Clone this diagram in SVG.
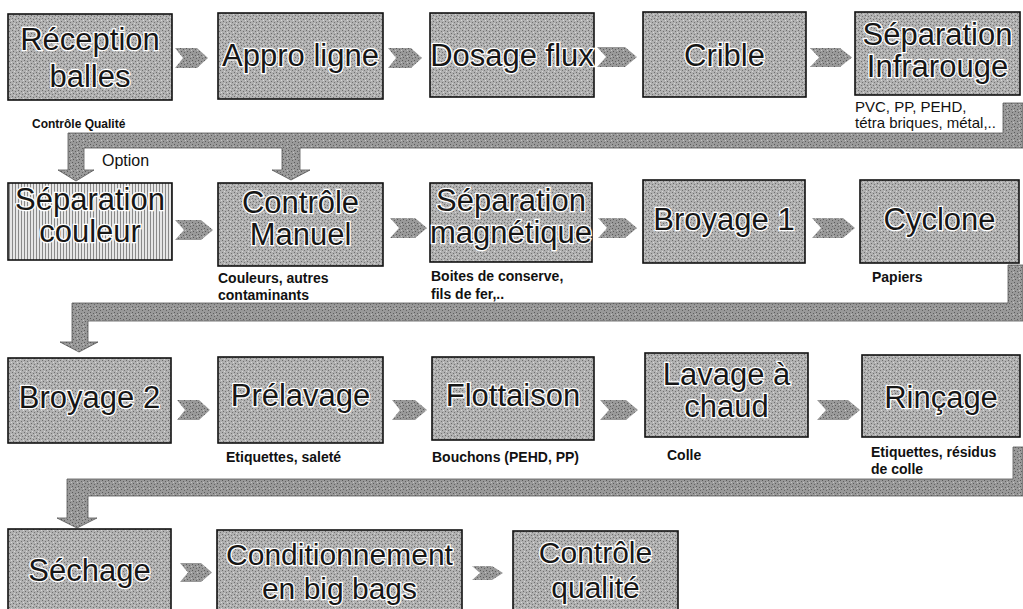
<svg xmlns="http://www.w3.org/2000/svg" width="1023" height="609" viewBox="0 0 1023 609">
<defs>
<pattern id="grainBox" width="6" height="6" patternUnits="userSpaceOnUse">
<rect width="6" height="6" fill="#b0b0b0"/>
<rect x="0" y="0" width="1" height="1" fill="#6e6e6e"/>
<rect x="3" y="1" width="1" height="1" fill="#707070"/>
<rect x="1" y="3" width="1" height="1" fill="#6a6a6a"/>
<rect x="4" y="4" width="1" height="1" fill="#747474"/>
<rect x="5" y="2" width="1" height="1" fill="#d8d8d8"/>
<rect x="2" y="5" width="1" height="1" fill="#d4d4d4"/>
</pattern>
<pattern id="grainDark" width="6" height="6" patternUnits="userSpaceOnUse">
<rect width="6" height="6" fill="#999"/>
<rect x="0" y="0" width="1" height="1" fill="#5a5a5a"/>
<rect x="3" y="1" width="1" height="1" fill="#606060"/>
<rect x="1" y="3" width="1" height="1" fill="#5c5c5c"/>
<rect x="4" y="4" width="1" height="1" fill="#646464"/>
<rect x="5" y="2" width="1" height="1" fill="#c4c4c4"/>
</pattern>
<pattern id="stripes" width="3" height="3" patternUnits="userSpaceOnUse">
<rect width="3" height="3" fill="#e6e6e6"/>
<rect width="1" height="3" fill="#8a8a8a"/>
</pattern>
<style>
.box{fill:url(#grainBox);stroke:#111;stroke-width:1.6}
.t{font-family:"Liberation Sans",Arial,sans-serif;font-size:31px;fill:#161616;stroke:#fff;stroke-width:2.6;paint-order:stroke;text-anchor:middle}
.lb{font-family:"Liberation Sans",Arial,sans-serif;font-size:14px;font-weight:bold;fill:#111}
.lr{font-family:"Liberation Sans",Arial,sans-serif;font-size:15px;fill:#111}
.band{fill:url(#grainDark);stroke:#555;stroke-width:0.8}
.chev{fill:url(#grainDark)}
</style>
</defs>
<rect width="1023" height="609" fill="#fff"/>

<g id="connectors">
<path class="band" d="M1023,103 L1003,103 L1003,133 L68,133 L68,170 L58,170 L76,181 L94,170 L84,170 L84,148 L282,148 L282,170 L272,170 L291,180 L310,170 L300,170 L300,148 L1023,148 Z"/>
<path class="band" d="M1023,265 L1008,265 L1008,303 L72,303 L72,342 L60,342 L79,352 L98,342 L88,342 L88,321 L1023,321 Z"/>
<path class="band" d="M1023,447 L1013,447 L1013,479 L67,479 L67,518 L57,518 L77,528 L97,518 L88,518 L88,496 L1023,496 Z"/>
<g id="chevrons">
<polygon class="chev" points="175,48 197,48 208,58 197,68 175,68 183,58"/>
<polygon class="chev" points="388,48 411,48 422,58 411,68 388,68 396,58"/>
<polygon class="chev" points="597,47 625,47 637,57 625,67 597,67 606,57"/>
<polygon class="chev" points="810,48 840,48 852,57.5 840,67 810,67 819,57.5"/>
<polygon class="chev" points="175,220 201,220 213,230 201,240 175,240 184,230"/>
<polygon class="chev" points="390,218 415,218 427,228 415,238 390,238 399,228"/>
<polygon class="chev" points="598,218 625,218 637,228 625,238 598,238 607,228"/>
<polygon class="chev" points="812,218 843,218 855,228 843,238 812,238 821,228"/>
<polygon class="chev" points="177,400 199,400 210,410 199,420 177,420 185,410"/>
<polygon class="chev" points="392,400 415,400 427,410 415,420 392,420 400,410"/>
<polygon class="chev" points="600,400 626,400 638,410 626,420 600,420 609,410"/>
<polygon class="chev" points="817,400 848,400 860,410 848,420 817,420 826,410"/>
<polygon class="chev" points="180,563 201,563 212,572.5 201,582 180,582 188,572.5"/>
<polygon class="chev" points="472,566 492,566 503,573 492,580 472,580 480,573"/>
</g>
<text x="102" y="166" font-family="Liberation Sans, Arial, sans-serif" font-size="16" fill="#111">Option</text>
</g>

<g id="n-reception">
<rect class="box" x="8" y="14" width="164" height="86"/>
<text class="t" x="90" y="50">Réception</text><text class="t" x="90" y="87">balles</text>
<text x="32" y="128" font-family="Liberation Sans, Arial, sans-serif" font-size="12" font-weight="bold" fill="#111">Contrôle Qualité</text>
</g>
<g id="n-appro">
<rect class="box" x="218" y="13" width="165" height="86"/>
<text class="t" x="300.5" y="66">Appro ligne</text>
</g>
<g id="n-dosage">
<rect class="box" x="430" y="13" width="164" height="84"/>
<text class="t" x="512" y="66">Dosage flux</text>
</g>
<g id="n-crible">
<rect class="box" x="643" y="12" width="163" height="85"/>
<text class="t" x="724.5" y="66">Crible</text>
</g>
<g id="n-infrarouge">
<rect class="box" x="855" y="12" width="165" height="83"/>
<text class="t" x="937.5" y="45">Séparation</text><text class="t" x="937.5" y="77">Infrarouge</text>
<text class="lr" x="855" y="112">PVC, PP, PEHD,</text><text class="lr" x="855" y="128">tétra briques, métal,..</text>
</g>

<g id="n-couleur">
<rect x="8" y="183" width="164" height="77" fill="url(#stripes)" stroke="#111" stroke-width="1.6"/>
<text class="t" x="90" y="210">Séparation</text><text class="t" x="90" y="242">couleur</text>
</g>
<g id="n-manuel">
<rect class="box" x="218" y="183" width="165" height="83"/>
<text class="t" x="300.5" y="213">Contrôle</text><text class="t" x="300.5" y="245">Manuel</text>
<text class="lb" x="218" y="283">Couleurs, autres</text><text class="lb" x="218" y="300">contaminants</text>
</g>
<g id="n-magnetique">
<rect class="box" x="430" y="183" width="162" height="79"/>
<text class="t" x="511" y="211">Séparation</text><text class="t" x="511" y="243">magnétique</text>
<text class="lb" x="431" y="281">Boites de conserve,</text><text class="lb" x="431" y="299">fils de fer,..</text>
</g>
<g id="n-broyage1">
<rect class="box" x="643" y="180" width="162" height="83"/>
<text class="t" x="724" y="230">Broyage 1</text>
</g>
<g id="n-cyclone">
<rect class="box" x="860" y="180" width="159" height="83"/>
<text class="t" x="939.5" y="230">Cyclone</text>
<text class="lb" x="872" y="282">Papiers</text>
</g>

<g id="n-broyage2">
<rect class="box" x="8" y="358" width="163" height="85"/>
<text class="t" x="89.5" y="408">Broyage 2</text>
</g>
<g id="n-prelavage">
<rect class="box" x="218" y="357" width="165" height="86"/>
<text class="t" x="300.5" y="406">Prélavage</text>
<text class="lb" x="226" y="462">Etiquettes, saleté</text>
</g>
<g id="n-flottaison">
<rect class="box" x="432" y="357" width="162" height="83"/>
<text class="t" x="513" y="406">Flottaison</text>
<text class="lb" x="432" y="462">Bouchons (PEHD, PP)</text>
</g>
<g id="n-lavage">
<rect class="box" x="645" y="353" width="163" height="84"/>
<text class="t" x="726.5" y="385">Lavage à</text><text class="t" x="726.5" y="417">chaud</text>
<text class="lb" x="667" y="460">Colle</text>
</g>
<g id="n-rincage">
<rect class="box" x="862" y="355" width="158" height="82"/>
<text class="t" x="941" y="408">Rinçage</text>
<text class="lb" x="871" y="457">Etiquettes, résidus</text><text class="lb" x="871" y="474">de colle</text>
</g>

<g id="n-sechage">
<rect class="box" x="8" y="529" width="163" height="90"/>
<text class="t" x="89.5" y="581">Séchage</text>
</g>
<g id="n-conditionnement">
<rect class="box" x="217" y="530" width="245" height="90"/>
<text class="t" x="339.5" y="565" style="font-size:30px">Conditionnement</text><text class="t" x="339.5" y="599" style="font-size:30px">en big bags</text>
</g>
<g id="n-controle-qualite">
<rect class="box" x="513" y="531" width="165" height="90"/>
<text class="t" x="595.5" y="563" style="font-size:30px">Contrôle</text><text class="t" x="595.5" y="598" style="font-size:30px">qualité</text>
</g>
</svg>
